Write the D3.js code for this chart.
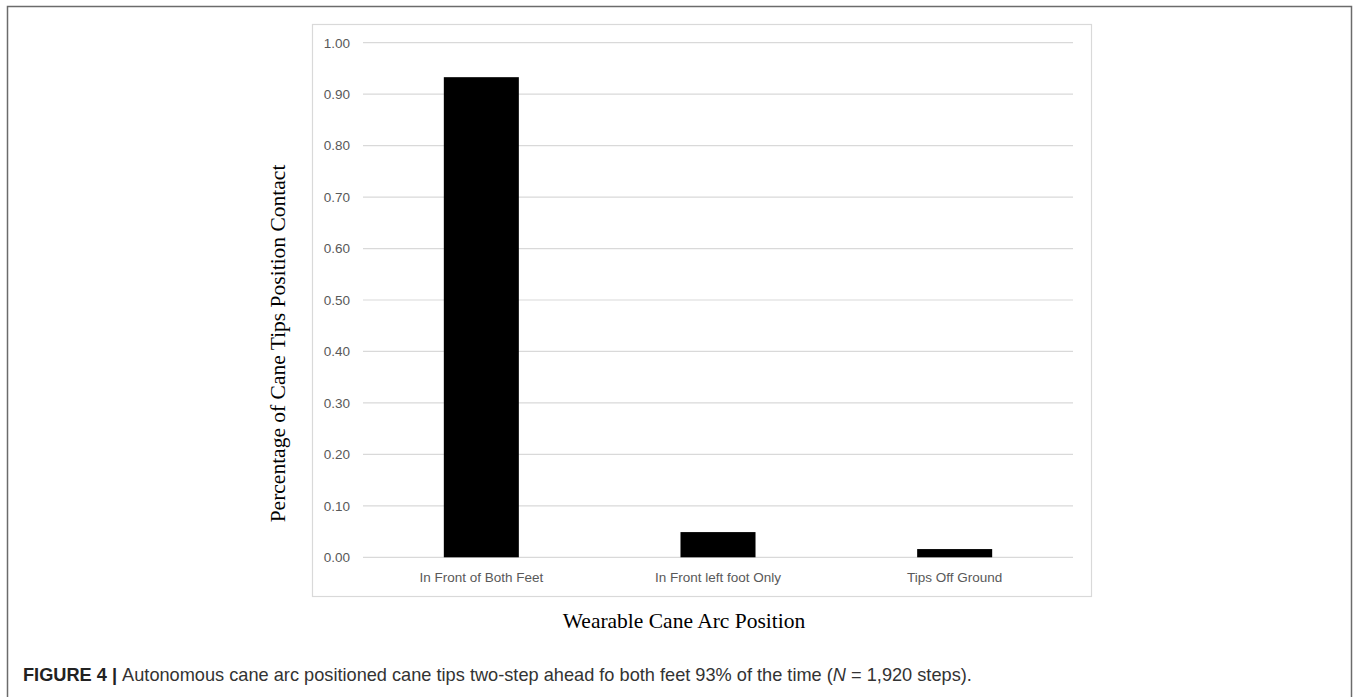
<!DOCTYPE html>
<html>
<head>
    <title>Wearable Cane Arc Position</title>
    <script src="https://d3js.org/d3.v7.min.js"></script>
    <style>
        body, html {
            margin: 0;
            padding: 0;
            width: 100%;
            height: 100%;
            overflow: hidden;
            background: #fff;
        }

        svg {
            display: block;
        }

        .tick-label {
            font-family: "Liberation Sans", Arial, sans-serif;
            font-size: 13.5px;
            fill: #595959;
        }

        .axis-title {
            font-family: "Liberation Serif", "Times New Roman", serif;
            font-size: 21.5px;
            fill: #000;
        }

        .caption {
            font-family: "Liberation Sans", Arial, sans-serif;
            font-size: 18.2px;
            fill: #333;
        }
    </style>
</head>
<body>
    <svg id="chart" width="1357" height="697"></svg>

    <script>
        // data
        const categories = ["In Front of Both Feet", "In Front left foot Only", "Tips Off Ground"];
        const shares = [0.933, 0.049, 0.016];
        const yTicks = [0, 0.1, 0.2, 0.3, 0.4, 0.5, 0.6, 0.7, 0.8, 0.9, 1.0];

        const svg = d3.select("#chart");

        // outer figure border
        svg.append("rect")
            .attr("x", 7.5)
            .attr("y", 6.5)
            .attr("width", 1344)
            .attr("height", 700)
            .attr("fill", "none")
            .attr("stroke", "#6b6b6b")
            .attr("stroke-width", 1.5);

        // chart frame
        svg.append("rect")
            .attr("x", 312.5)
            .attr("y", 24.5)
            .attr("width", 779)
            .attr("height", 572)
            .attr("fill", "none")
            .attr("stroke", "#d9d9d9")
            .attr("stroke-width", 1.2);

        const plot = { left: 363, right: 1073, top: 42.7, bottom: 557.3 };

        const x = d3.scaleBand()
            .domain(categories)
            .range([plot.left, plot.right])
            .paddingInner(0.683)
            .paddingOuter(0.3415);

        const y = d3.scaleLinear()
            .domain([0, 1])
            .range([plot.bottom, plot.top]);

        // gridlines
        svg.append("g")
            .selectAll("line")
            .data(yTicks)
            .enter().append("line")
            .attr("x1", plot.left)
            .attr("x2", plot.right)
            .attr("y1", d => y(d))
            .attr("y2", d => y(d))
            .attr("stroke", "#d9d9d9")
            .attr("stroke-width", 1.2);

        // y tick labels
        svg.append("g")
            .selectAll("text")
            .data(yTicks)
            .enter().append("text")
            .attr("class", "tick-label")
            .attr("x", 350)
            .attr("y", d => y(d))
            .attr("dy", "0.36em")
            .attr("text-anchor", "end")
            .text(d => d3.format(".2f")(d));

        // bars
        svg.append("g")
            .selectAll("rect")
            .data(categories)
            .enter().append("rect")
            .attr("x", d => x(d))
            .attr("width", x.bandwidth())
            .attr("y", (d, i) => y(shares[i]))
            .attr("height", (d, i) => y(0) - y(shares[i]))
            .attr("fill", "#000");

        // x category labels
        svg.append("g")
            .selectAll("text")
            .data(categories)
            .enter().append("text")
            .attr("class", "tick-label")
            .attr("x", d => x(d) + x.bandwidth() / 2)
            .attr("y", 582)
            .attr("text-anchor", "middle")
            .text(d => d);

        // axis titles
        svg.append("text")
            .attr("class", "axis-title")
            .attr("x", 684)
            .attr("y", 628)
            .attr("text-anchor", "middle")
            .text("Wearable Cane Arc Position");

        svg.append("text")
            .attr("class", "axis-title")
            .attr("transform", "translate(285,343.5) rotate(-90)")
            .attr("text-anchor", "middle")
            .text("Percentage of Cane Tips Position Contact");

        // caption
        const cap = svg.append("text")
            .attr("class", "caption")
            .attr("x", 23)
            .attr("y", 681);
        cap.append("tspan")
            .attr("font-weight", "bold")
            .attr("fill", "#222")
            .text("FIGURE 4 | ");
        cap.append("tspan").text("Autonomous cane arc positioned cane tips two-step ahead fo both feet 93% of the time (");
        cap.append("tspan").attr("font-style", "italic").text("N");
        cap.append("tspan").text(" = 1,920 steps).");
    </script>
</body>
</html>
